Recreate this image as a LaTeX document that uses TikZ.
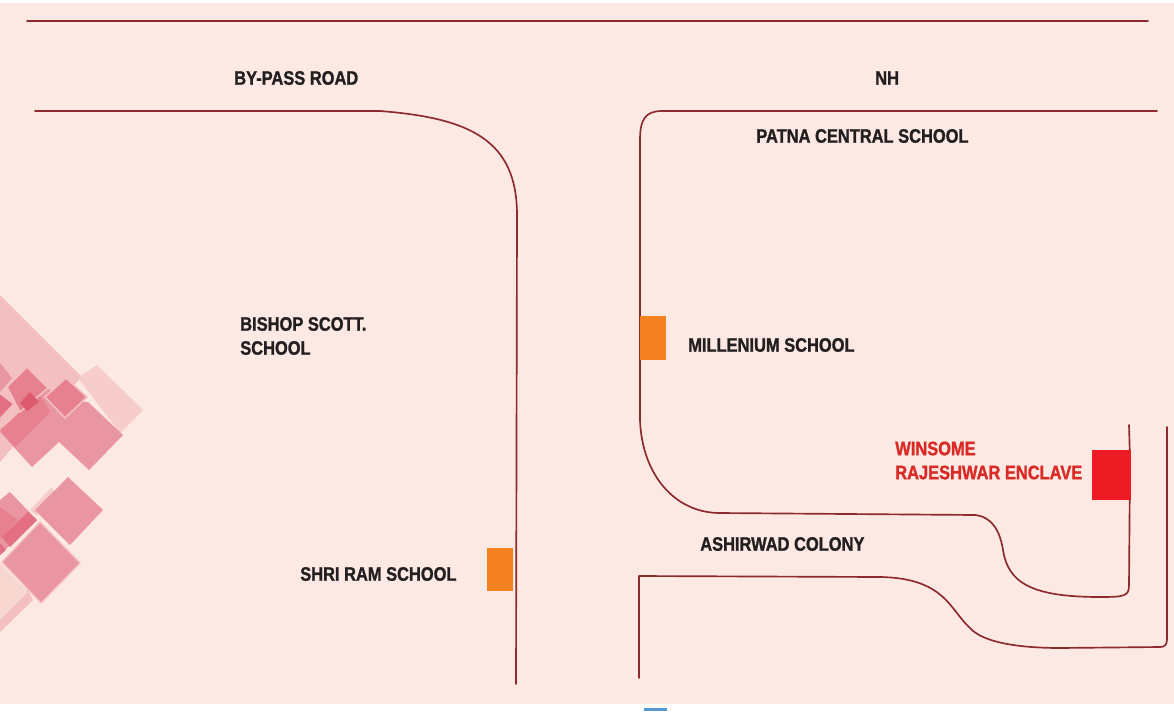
\documentclass[tikz,border=0pt]{standalone}
\usepackage{fontspec}
\setmainfont[FakeStretch=0.845,BoldFeatures={FakeBold=1.2}]{Liberation Sans}
\definecolor{bgpink}{HTML}{FDE9E3}
\definecolor{roadc}{HTML}{8C2A2E}
\definecolor{labelc}{HTML}{231F20}
\definecolor{orangec}{HTML}{F58220}
\definecolor{redc}{HTML}{ED1C24}
\definecolor{redt}{HTML}{DB2A26}
\definecolor{paleA}{HTML}{F4BFC0}
\definecolor{paleB}{HTML}{F6CDCB}
\definecolor{paleC}{HTML}{F7D6CF}
\definecolor{midA}{HTML}{EA95A2}
\definecolor{midB}{HTML}{E7818F}
\definecolor{midC}{HTML}{E56F82}
\definecolor{darkA}{HTML}{DE5A6E}
\tikzset{
  x=0.75pt,y=-0.75pt,
  road/.style={draw=roadc,line width=1.25pt,line cap=round,line join=round},
  lab/.style={font=\bfseries\fontsize{14.6}{18}\selectfont,text=labelc,anchor=west,inner sep=0pt,align=left},
  redlab/.style={lab,text=redt},
  marker/.style={fill=orangec,draw=none,inner sep=0pt,minimum width=19.5pt,minimum height=32.5pt},
  enclave/.style={fill=redc,draw=none,inner sep=0pt,minimum width=29pt,minimum height=37.5pt},
  pale/.style={fill=paleA,draw=none},
  paler/.style={fill=paleB,draw=none},
  palest/.style={fill=paleC,draw=none},
  mid/.style={fill=midA,draw=none},
  midedged/.style={fill=midA,draw=paleA,line width=1pt,line join=miter},
  edged/.style={fill=midB,draw=paleA,line width=1.2pt},
  deep/.style={fill=midC,draw=none},
  deepest/.style={fill=darkA,draw=none},
}
\begin{document}
\begin{tikzpicture}
\useasboundingbox (0,0) rectangle (1174,711);
\fill[white] (0,0) rectangle (1174,711);
\fill[bgpink] (0,3) rectangle (1174,704);
\fill[cyan!60!blue!70!white] (644,708) rectangle (667,711);

% decorative diamonds
\begin{scope}
\clip (0,0) rectangle (1174,711);
% upper cluster
\fill[pale] (0,295) -- (82,377) -- (0,459) -- cycle;
\fill[paler] (97,365) -- (143,410) -- (120,433) -- (78,378) -- cycle;
\fill[pale] (0,440) -- (12,448) -- (0,462) -- cycle;
\fill[mid] (88,402) -- (123,435) -- (89,470) -- (59,442) -- (32,467) -- (0,432) -- (45,385) -- (60,400) -- cycle;
\fill[midB] (0,430) -- (40,395) -- (50,412) -- (15,447) -- cycle;
\fill[midA] (0,363) -- (12,378) -- (0,392) -- cycle;
\draw[edged] (27,367) -- (48,388) -- (20,412) -- (7,387) -- cycle;
\fill[deepest] (30,392) -- (39,402) -- (27,411) -- (20,403) -- cycle;
\draw[edged] (0,393) -- (14,404) -- (0,419);
\fill[midC] (0,395) -- (12,404) -- (0,417) -- cycle;
\draw[edged] (66,378) -- (87,397) -- (65,418) -- (45,397) -- cycle;
% lower cluster
\fill[paler] (52,487) -- (30,510) -- (37,516) -- (55,495) -- cycle;
\fill[paleA] (0,590) -- (28,590) -- (33,600) -- (0,632) -- cycle;
\fill[palest] (0,563) -- (28,592) -- (0,620) -- cycle;
\fill[mid] (68,477) -- (103,510) -- (70,545) -- (35,510) -- cycle;
\fill[midA] (10,492) -- (37,520) -- (5,550) -- (0,555) -- (0,500) -- cycle;
\fill[midB] (0,507) -- (18,520) -- (2,537) -- (0,538) -- cycle;
\fill[midC] (28,512) -- (37,520) -- (10,547) -- (2,537) -- cycle;
\fill[midC] (0,543) -- (6,550) -- (0,555) -- cycle;
\draw[midedged] (40,522) -- (80,563) -- (41,603) -- (2,562) -- cycle;
\end{scope}

% roads
\draw[road] (27,21) -- (1148,21);
\draw[road] (35,111) -- (380,111) .. controls (470,118) and (517,140) .. (517,215) -- (516,684);
\draw[road] (1157,111) -- (662,111) .. controls (645,111) and (640,120) .. (640,140) -- (640,420)
  .. controls (642,475) and (675,513) .. (720,513) -- (975,515)
  .. controls (993,517) and (1000,532) .. (1003,550)
  .. controls (1008,582) and (1030,597) .. (1100,597)
  .. controls (1125,597) and (1129,596) .. (1129,585) -- (1130,460) -- (1129,425);
\draw[road] (639,678) -- (639,576) -- (880,577)
  .. controls (945,578) and (950,610) .. (970,628)
  .. controls (985,645) and (1030,648) .. (1060,648) -- (1160,647)
  .. controls (1165,647) and (1167,645) .. (1167,638) -- (1167,427);

% markers
\node[marker] (mill) at (652.5,338) {};
\node[marker] (shri) at (500,569.5) {};
\node[enclave] (winsome) at (1111.5,475) {};

% labels
\node[lab] (bypass) at (234,78) {BY-PASS ROAD};
\node[lab] (nh) at (875,78) {NH};
\node[lab] (patna) at (756,136) {PATNA CENTRAL SCHOOL};
\node[lab] (bishop) at (240,336) {BISHOP SCOTT.\\SCHOOL};
\node[lab] (millt) at (688,345) {MILLENIUM SCHOOL};
\node[lab] (ashir) at (700,544) {ASHIRWAD COLONY};
\node[lab] (shrit) at (300,574) {SHRI RAM SCHOOL};
\node[redlab] (win) at (895,460.5) {WINSOME\\RAJESHWAR ENCLAVE};
\end{tikzpicture}
\end{document}
